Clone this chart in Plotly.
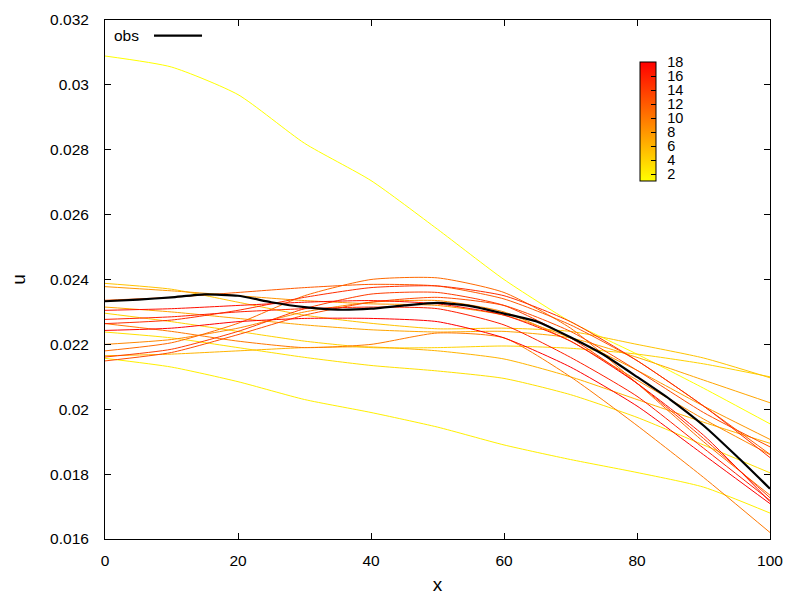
import plotly.graph_objects as go

# ensemble members sampled every 10 units of x
x_pos = [0, 10, 20, 30, 40, 50, 60, 70, 80, 90, 100]

member_01 = [0.03089, 0.03055, 0.02970, 0.02820, 0.02705, 0.02555, 0.02400, 0.02270, 0.02170, 0.02065, 0.01955]
member_02 = [0.02157, 0.02130, 0.02085, 0.02030, 0.01990, 0.01945, 0.01890, 0.01845, 0.01805, 0.01760, 0.01680]
member_03 = [0.02238, 0.02220, 0.02190, 0.02160, 0.02135, 0.02118, 0.02095, 0.02045, 0.01975, 0.01890, 0.01804]
member_04 = [0.02296, 0.02270, 0.02240, 0.02210, 0.02190, 0.02190, 0.02195, 0.02188, 0.02170, 0.02140, 0.02100]
member_05 = [0.02388, 0.02370, 0.02330, 0.02290, 0.02265, 0.02248, 0.02250, 0.02240, 0.02200, 0.02158, 0.02097]
member_06 = [0.02165, 0.02170, 0.02180, 0.02190, 0.02192, 0.02180, 0.02155, 0.02100, 0.02030, 0.01960, 0.01895]
member_07 = [0.02315, 0.02300, 0.02280, 0.02260, 0.02245, 0.02238, 0.02240, 0.02220, 0.02160, 0.02090, 0.02020]
member_08 = [0.02378, 0.02365, 0.02350, 0.02335, 0.02325, 0.02320, 0.02290, 0.02220, 0.02120, 0.02010, 0.01907]
member_09 = [0.02200, 0.02215, 0.02250, 0.02300, 0.02330, 0.02335, 0.02300, 0.02210, 0.02090, 0.01970, 0.01860]
member_10 = [0.02264, 0.02240, 0.02210, 0.02190, 0.02200, 0.02235, 0.02220, 0.02100, 0.01950, 0.01790, 0.01620]
member_11 = [0.02180, 0.02205, 0.02265, 0.02350, 0.02400, 0.02405, 0.02360, 0.02250, 0.02080, 0.01900, 0.01735]
member_12 = [0.02336, 0.02345, 0.02360, 0.02375, 0.02385, 0.02380, 0.02340, 0.02260, 0.02150, 0.02010, 0.01861]
member_13 = [0.02149, 0.02175, 0.02230, 0.02290, 0.02330, 0.02345, 0.02320, 0.02240, 0.02120, 0.01990, 0.01884]
member_14 = [0.02161, 0.02185, 0.02240, 0.02310, 0.02355, 0.02360, 0.02320, 0.02220, 0.02080, 0.01910, 0.01727]
member_15 = [0.02264, 0.02275, 0.02305, 0.02345, 0.02375, 0.02380, 0.02350, 0.02270, 0.02150, 0.02010, 0.01851]
member_16 = [0.02277, 0.02285, 0.02300, 0.02310, 0.02315, 0.02310, 0.02260, 0.02160, 0.02040, 0.01880, 0.01719]
member_17 = [0.02305, 0.02310, 0.02320, 0.02330, 0.02335, 0.02325, 0.02290, 0.02210, 0.02080, 0.01920, 0.01715]
member_18 = [0.02243, 0.02250, 0.02270, 0.02280, 0.02280, 0.02270, 0.02220, 0.02130, 0.02010, 0.01860, 0.01709]

# observation
obs_x = [0, 5, 10, 15, 20, 25, 30, 35, 40, 45, 50, 55, 60, 65, 70, 75, 80, 85, 90, 95, 100]
obs_u = [0.02333, 0.02338, 0.02345, 0.02354, 0.02350, 0.02330, 0.02315, 0.02307, 0.02310, 0.02320, 0.02328,
         0.02318, 0.02295, 0.02270, 0.02222, 0.02168, 0.02100, 0.02030, 0.01950, 0.01855, 0.01755]

x_ticks = [0, 20, 40, 60, 80, 100]
y_ticks = [0.016, 0.018, 0.02, 0.022, 0.024, 0.026, 0.028, 0.03, 0.032]
cb_ticks = [2, 4, 6, 8, 10, 12, 14, 16, 18]

members = [member_01, member_02, member_03, member_04, member_05, member_06,
           member_07, member_08, member_09, member_10, member_11, member_12,
           member_13, member_14, member_15, member_16, member_17, member_18]

CB_MIN, CB_MAX = 1, 18


def member_color(c):
    # yellow -> red palette, like gnuplot's
    g = round(255 * (CB_MAX - c) / (CB_MAX - CB_MIN))
    return f"rgb(255,{g},0)"


fig = go.Figure()

for i, u in enumerate(members, start=1):
    fig.add_trace(go.Scatter(
        x=x_pos, y=u, mode="lines",
        line=dict(color=member_color(i), width=1, shape="spline", smoothing=0.6),
        showlegend=False, hoverinfo="skip"))

fig.add_trace(go.Scatter(
    x=obs_x, y=obs_u, mode="lines", name="obs",
    line=dict(color="black", width=2.2, shape="spline", smoothing=0.5),
    showlegend=False))

# dummy trace that carries the colorbar
fig.add_trace(go.Scatter(
    x=[None], y=[None], mode="markers", showlegend=False, hoverinfo="skip",
    marker=dict(
        size=0, color=[CB_MIN], cmin=CB_MIN, cmax=CB_MAX,
        colorscale=[[0, "#FFFF00"], [1, "#FF0000"]],
        showscale=True,
        colorbar=dict(
            x=0.8045, xanchor="left", xpad=0,
            y=0.919, yanchor="top", ypad=0,
            thickness=16, thicknessmode="pixels",
            len=119, lenmode="pixels",
            outlinecolor="black", outlinewidth=1,
            ticks="inside", ticklen=5, tickcolor="black",
            tickvals=cb_ticks, ticktext=["\u2002" + str(t) for t in cb_ticks],
            tickfont=dict(size=14.5, color="black"),
        ),
    )))

# gnuplot-style key: text first, then the sample
fig.add_annotation(x=0.0541, y=0.970, xref="paper", yref="paper",
                   text="obs", showarrow=False, xanchor="right", yanchor="middle",
                   font=dict(size=15.5, color="black"))
fig.add_shape(type="line", xref="paper", yref="paper",
              x0=0.0737, x1=0.1459, y0=0.970, y1=0.970,
              line=dict(color="black", width=2.2))

# margins compensate for the page's own 8px body offset
fig.update_layout(
    width=800, height=600,
    margin=dict(l=97, r=38, t=12, b=69, autoexpand=False),
    paper_bgcolor="white", plot_bgcolor="white",
    font=dict(family="Liberation Sans, Arial, sans-serif", size=15.5, color="black"),
    xaxis=dict(
        range=[0, 100], tickvals=x_ticks, automargin=False,
        ticks="inside", ticklen=6, tickcolor="black",
        showline=True, linecolor="black", linewidth=1, mirror="ticks",
        showgrid=False, zeroline=False, ticklabelstandoff=7,
        title=dict(text="x", standoff=10),
    ),
    yaxis=dict(
        range=[0.016, 0.032], tickvals=y_ticks, ticktext=[f"{v:g}" for v in y_ticks],
        automargin=False,
        ticks="inside", ticklen=6, tickcolor="black",
        showline=True, linecolor="black", linewidth=1, mirror="ticks",
        showgrid=False, zeroline=False, ticklabelstandoff=12,
        title=dict(text="u", standoff=32),
    ),
)

fig.write_html("out.html")
